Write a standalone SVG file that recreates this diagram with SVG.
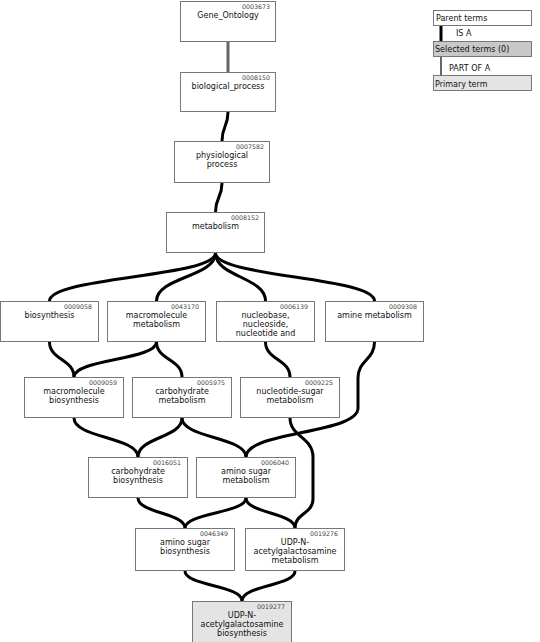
<svg xmlns="http://www.w3.org/2000/svg" width="540" height="642" viewBox="0 0 540 642">
<style>
.box{fill:#fff;stroke:#777;stroke-width:1}
.prim{fill:#e4e4e4}
.sel{fill:#c8c8c8}
.nm{font-family:"DejaVu Sans",sans-serif;font-size:8px;fill:#111;text-anchor:middle}
.id{font-family:"DejaVu Sans",sans-serif;font-size:6.3px;fill:#444;text-anchor:end}
.lg{font-family:"DejaVu Sans",sans-serif;font-size:8px;fill:#111}
.isa{fill:none;stroke:#000;stroke-width:3}
.partof{fill:none;stroke:#666;stroke-width:3}
</style>
<g id="connectors">
<path class="partof" d="M228,42 L228,72"/>
<path class="isa" d="M228,112 C228,127 222,126 222,141"/>
<path class="isa" d="M222,183 C222,198 215.5,197 215.5,212"/>
<path class="isa" d="M215.5,253 C215.5,277 49.5,277 49.5,301"/>
<path class="isa" d="M215.5,253 C215.5,277 156.5,277 156.5,301"/>
<path class="isa" d="M215.5,253 C215.5,277 265.5,277 265.5,301"/>
<path class="isa" d="M215.5,253 C215.5,277 374.5,277 374.5,301"/>
<path class="isa" d="M49.5,342 C49.5,360 74,359 74,377"/>
<path class="isa" d="M156.5,342 C156.5,360 74,359 74,377"/>
<path class="isa" d="M156.5,342 C156.5,360 182,359 182,377"/>
<path class="isa" d="M265.5,342 C265.5,360 290,359 290,377"/>
<path class="isa" d="M374.5,342 C374.5,360 358,360 358,378 L358,408 C358,434 246,431 246,457"/>
<path class="isa" d="M290,418 C290,437 313,437 313,457 L313,499 C313,514 295,513 295,528"/>
<path class="isa" d="M74,418 C74,438 138,437 138,457"/>
<path class="isa" d="M182,418 C182,438 138,437 138,457"/>
<path class="isa" d="M182,418 C182,438 246,437 246,457"/>
<path class="isa" d="M138,498 C138,513 185,513 185,528"/>
<path class="isa" d="M246,498 C246,513 185,513 185,528"/>
<path class="isa" d="M246,498 C246,513 295,513 295,528"/>
<path class="isa" d="M185,571 C185,586 242,585 242,601"/>
<path class="isa" d="M295,571 C295,586 242,585 242,601"/>
</g>
<g id="n0003673"><rect class="box" x="180.5" y="1.5" width="95" height="40"/><text class="id" x="270" y="9">0003673</text><text class="nm" x="228" y="18">Gene_Ontology</text></g>
<g id="n0008150"><rect class="box" x="180.5" y="72.5" width="95" height="39"/><text class="id" x="270" y="80">0008150</text><text class="nm" x="228" y="89">biological_process</text></g>
<g id="n0007582"><rect class="box" x="174.5" y="141.5" width="95" height="41"/><text class="id" x="264" y="149">0007582</text><text class="nm" x="222" y="158">physiological</text><text class="nm" x="222" y="167">process</text></g>
<g id="n0008152"><rect class="box" x="166.5" y="212.5" width="98" height="40"/><text class="id" x="259" y="220">0008152</text><text class="nm" x="215.5" y="229">metabolism</text></g>
<g id="n0009058"><rect class="box" x="0.5" y="301.5" width="98" height="40"/><text class="id" x="92" y="309">0009058</text><text class="nm" x="49.5" y="318">biosynthesis</text></g>
<g id="n0043170"><rect class="box" x="107.5" y="301.5" width="98" height="40"/><text class="id" x="199" y="309">0043170</text><text class="nm" x="156.5" y="318">macromolecule</text><text class="nm" x="156.5" y="327">metabolism</text></g>
<g id="n0006139"><rect class="box" x="216.5" y="301.5" width="98" height="40"/><text class="id" x="308" y="309">0006139</text><text class="nm" x="265.5" y="318">nucleobase,</text><text class="nm" x="265.5" y="327">nucleoside,</text><text class="nm" x="265.5" y="336">nucleotide and</text></g>
<g id="n0009308"><rect class="box" x="325.5" y="301.5" width="98" height="40"/><text class="id" x="417" y="309">0009308</text><text class="nm" x="374.5" y="318">amine metabolism</text></g>
<g id="n0009059"><rect class="box" x="24.5" y="377.5" width="99" height="40"/><text class="id" x="117" y="385">0009059</text><text class="nm" x="74" y="394">macromolecule</text><text class="nm" x="74" y="403">biosynthesis</text></g>
<g id="n0005975"><rect class="box" x="132.5" y="377.5" width="99" height="40"/><text class="id" x="225" y="385">0005975</text><text class="nm" x="182" y="394">carbohydrate</text><text class="nm" x="182" y="403">metabolism</text></g>
<g id="n0009225"><rect class="box" x="240.5" y="377.5" width="99" height="40"/><text class="id" x="333" y="385">0009225</text><text class="nm" x="290" y="394">nucleotide-sugar</text><text class="nm" x="290" y="403">metabolism</text></g>
<g id="n0016051"><rect class="box" x="88.5" y="457.5" width="99" height="40"/><text class="id" x="181" y="465">0016051</text><text class="nm" x="138" y="474">carbohydrate</text><text class="nm" x="138" y="483">biosynthesis</text></g>
<g id="n0006040"><rect class="box" x="196.5" y="457.5" width="99" height="40"/><text class="id" x="289" y="465">0006040</text><text class="nm" x="246" y="474">amino sugar</text><text class="nm" x="246" y="483">metabolism</text></g>
<g id="n0046349"><rect class="box" x="135.5" y="528.5" width="99" height="42"/><text class="id" x="228" y="536">0046349</text><text class="nm" x="185" y="545">amino sugar</text><text class="nm" x="185" y="554">biosynthesis</text></g>
<g id="n0019276"><rect class="box" x="245.5" y="528.5" width="99" height="42"/><text class="id" x="338" y="536">0019276</text><text class="nm" x="295" y="545">UDP-N-</text><text class="nm" x="295" y="554">acetylgalactosamine</text><text class="nm" x="295" y="563">metabolism</text></g>
<g id="n0019277"><rect class="box prim" x="192.5" y="601.5" width="99" height="42"/><text class="id" x="285" y="609">0019277</text><text class="nm" x="242" y="618">UDP-N-</text><text class="nm" x="242" y="627">acetylgalactosamine</text><text class="nm" x="242" y="636">biosynthesis</text></g>
<g id="legend">
<rect class="box" x="433.5" y="10.5" width="98" height="15"/>
<text class="lg" x="436" y="21">Parent terms</text>
<line class="isa" x1="441" y1="26" x2="441" y2="41"/>
<text class="lg" x="456" y="36">IS A</text>
<rect class="box sel" x="433.5" y="41.5" width="98" height="15"/>
<text class="lg" x="435" y="52">Selected terms (0)</text>
<line x1="441" y1="57" x2="441" y2="75" stroke="#666" stroke-width="2"/>
<text class="lg" x="449" y="71">PART OF A</text>
<rect class="box prim" x="433.5" y="75.5" width="98" height="15"/>
<text class="lg" x="435" y="87">Primary term</text>
</g>
</svg>
